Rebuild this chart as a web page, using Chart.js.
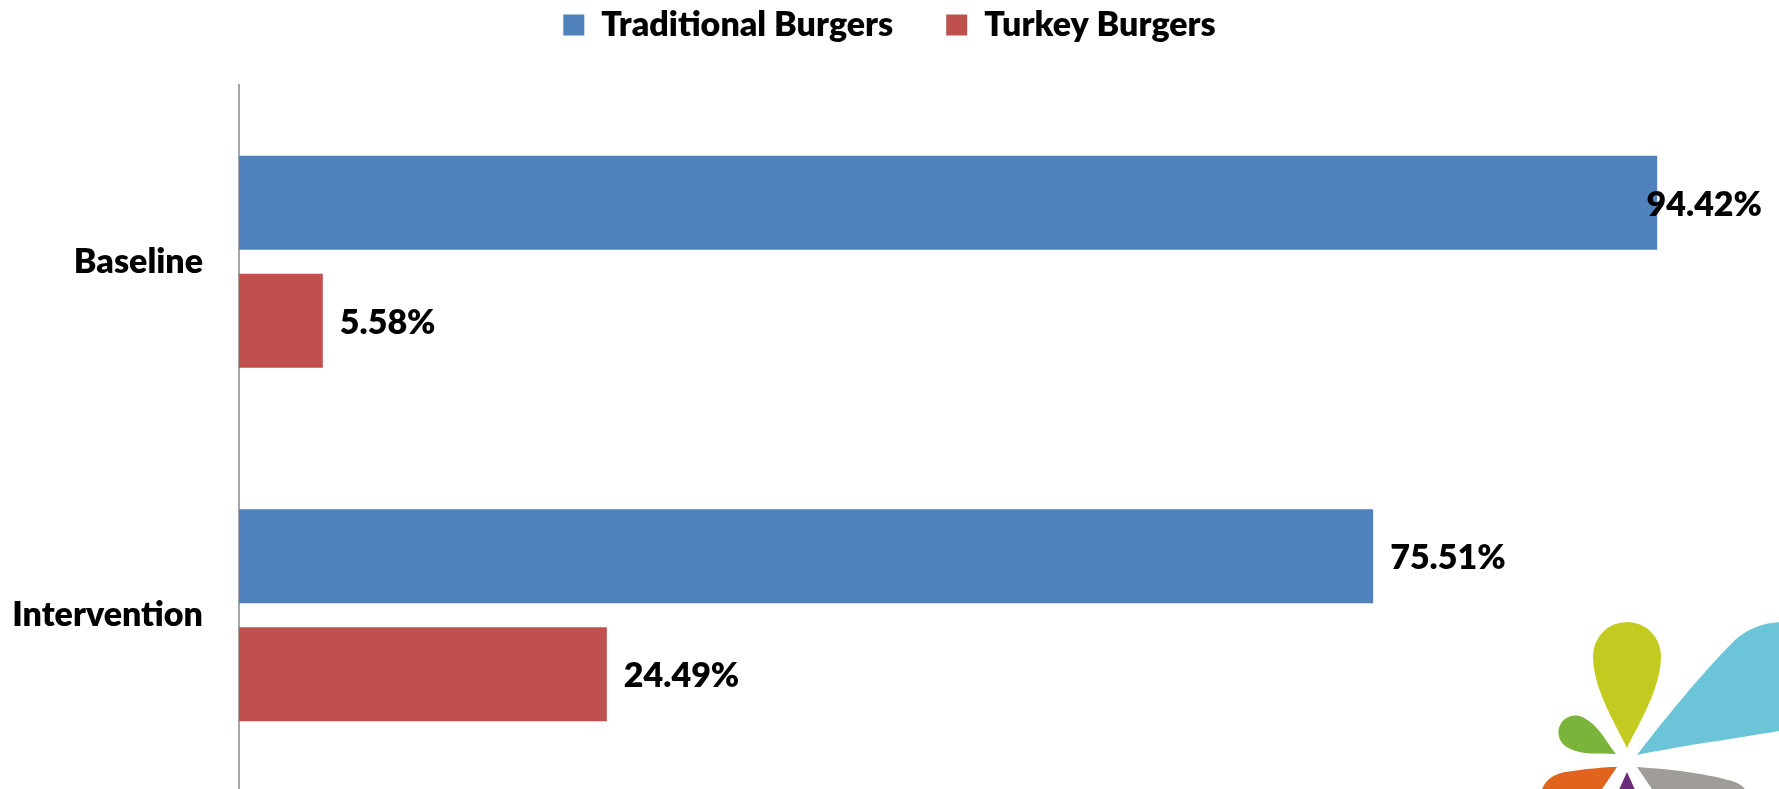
<!DOCTYPE html>
<html>
<head>
<meta charset="utf-8">
<script src="https://cdn.jsdelivr.net/npm/chart.js@4/dist/chart.umd.min.js"></script>
<style>
  html, body { margin: 0; padding: 0; background: #fff; overflow: hidden; }
  #wrap { position: relative; width: 1779px; height: 789px; overflow: hidden; }
  #burger-chart { position: absolute; left: 0; top: -45px; }
  #logo { position: absolute; left: 0; top: 0; pointer-events: none; }
</style>
</head>
<body>
<div id="wrap">
  <canvas id="burger-chart" width="1779" height="845"></canvas>
  <svg id="logo" width="1779" height="789" viewBox="0 0 1779 789">
    <path fill="#6cc4d8" d="M1637,755 C1660,725 1700,675 1735,640 C1750,627 1765,622 1785,622 L1785,730 C1740,738 1680,746 1637,755 Z"/>
    <path fill="#c3cb20" d="M1627,748 C1618,728 1593,690 1593,656 A34,34 0 0 1 1661,656 C1661,690 1636,728 1627,748 Z"/>
    <path fill="#7ab43a" transform="translate(1616,754) rotate(-62)" d="M0,0 C-7,-16 -17,-28 -17,-46 A17,17 0 0 1 17,-46 C17,-28 7,-16 0,0 Z"/>
    <path fill="#e0641e" d="M1617,767 L1600,792 L1541,792 C1545,780 1552,775 1565,772 C1585,769 1605,767 1617,767 Z"/>
    <path fill="#a09d98" d="M1637,767 C1670,769 1710,774 1735,782 C1742,785 1745,788 1746,792 L1654,792 Z"/>
    <path fill="#6b2c7a" d="M1627,772 L1636,792 L1618,792 Z"/>
  </svg>
</div>
<script>
// ─── Datos ────────────────────────────────────────────────────────
const categories  = ['Baseline', 'Intervention'];
const seriesNames = ['Traditional Burgers', 'Turkey Burgers'];
const traditional = [94.42, 75.51];
const turkey      = [5.58, 24.49];

const COLORS = {
  traditional: '#4f81bd',
  turkey:      '#c0504d',
};

const FONT = { family: 'Lato, "Open Sans", sans-serif', size: 34, weight: 800 };

// etiquetas de valor al final de cada barra
const valueLabels = {
  id: 'valueLabels',
  afterDatasetsDraw(chart) {
    const { ctx, chartArea } = chart;
    ctx.save();
    ctx.font = `${FONT.weight} ${FONT.size}px ${FONT.family}`;
    ctx.fillStyle = '#000';
    ctx.textBaseline = 'middle';
    ctx.textAlign = 'left';
    chart.data.datasets.forEach((ds, di) => {
      chart.getDatasetMeta(di).data.forEach((bar, i) => {
        const txt = ds.data[i].toFixed(2) + '%';
        const w = ctx.measureText(txt).width;
        const x = Math.min(bar.x + 17, chartArea.right + 21 - w);
        ctx.fillText(txt, x, bar.y + 2);
      });
    });
    ctx.restore();
  },
};

const canvas = document.getElementById('burger-chart');

new Chart(canvas, {
  type: 'bar',
  data: {
    labels: categories,
    datasets: [
      {
        label: seriesNames[0],
        data: traditional,
        backgroundColor: COLORS.traditional,
        categoryPercentage: 0.667,
        barPercentage: 0.797,
      },
      {
        label: seriesNames[1],
        data: turkey,
        backgroundColor: COLORS.turkey,
        categoryPercentage: 0.667,
        barPercentage: 0.797,
      },
    ],
  },
  options: {
    indexAxis: 'y',
    responsive: false,
    animation: false,
    layout: { padding: { top: 0, right: 0, bottom: 8, left: 0 } },
    plugins: {
      legend: {
        position: 'top',
        labels: {
          color: '#000',
          font: FONT,
          boxWidth: 21,
          boxHeight: 21,
          padding: 53,
        },
      },
      tooltip: { enabled: false },
    },
    scales: {
      x: {
        position: 'top',
        min: 0,
        max: 100,
        grid: { display: false },
        border: { display: false },
        ticks: { display: false },
        afterFit: s => { s.height = 33; },
      },
      y: {
        grid: { display: false, drawTicks: false },
        border: { display: true, color: '#a6a6a6', width: 2 },
        ticks: { color: '#000', font: FONT, padding: 36 },
        afterFit: s => {
          s.width = 239;
          s.paddingTop = 0;
          s.paddingBottom = 0;
        },
      },
      // margen derecho vacío, deja sitio a la etiqueta 94.42%
      yRight: {
        type: 'category',
        position: 'right',
        grid: { display: false, drawTicks: false },
        border: { display: false },
        ticks: { display: false },
        afterFit: s => {
          s.width = 38;
          s.paddingTop = 0;
          s.paddingBottom = 0;
        },
      },
    },
  },
  plugins: [valueLabels],
});
</script>
</body>
</html>
